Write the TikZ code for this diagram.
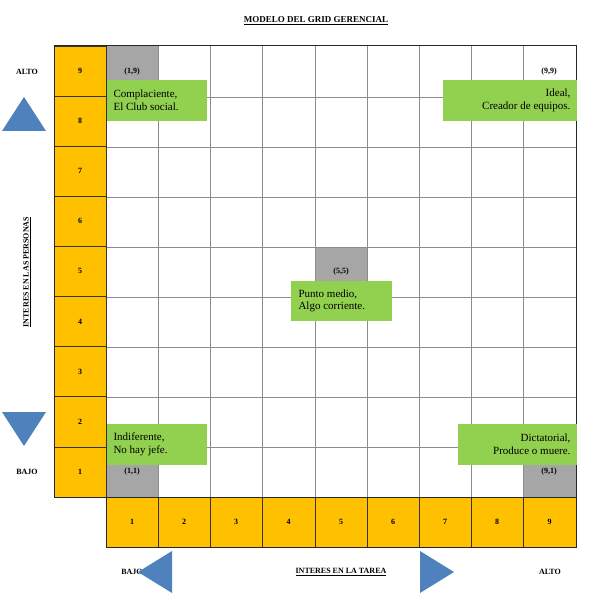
\documentclass[tikz,border=0pt]{standalone}
\usepackage{fontspec}
\setmainfont{Liberation Serif}
\begin{document}
\begin{tikzpicture}[x=1pt,y=-1pt,
 ycell/.style={fill=yellow!70!orange!95!white,draw=black!80,line width=0.6pt},
 gcell/.style={fill=black!35},
 gbox/.style={fill=green!55!black!45!lime!60!white,draw=none,align=left,inner sep=0pt,font=\fontsize{11}{12}\selectfont},
 lbl/.style={font=\bfseries\fontsize{8}{9}\selectfont},
 arr/.style={fill=blue!50!cyan!40!black!70!white}]
\definecolor{myyel}{RGB}{255,192,0}
\definecolor{mygrn}{RGB}{146,208,80}
\definecolor{myblu}{RGB}{79,129,189}
\tikzset{ycell/.style={fill=myyel,draw=black!80,line width=0.6pt},gbox/.append style={fill=mygrn},arr/.style={fill=myblu}}
\useasboundingbox (0,0) rectangle (604,604);
\node[font=\bfseries\fontsize{9}{10}\selectfont] (title) at (316,21) {\underline{MODELO DEL GRID GERENCIAL}};
% gray cells
\fill[gcell] (106,46) rectangle (158,97);
\fill[gcell] (315,247) rectangle (367,297);
\fill[gcell] (106,447) rectangle (158,497);
\fill[gcell] (523,447) rectangle (576,497);
% grid
\foreach \x in {158,210,262,315,367,419,471,523} \draw[black!45,line width=0.6pt] (\x,46) -- (\x,497);
\foreach \y in {97,147,197,247,297,347,397,447} \draw[black!45,line width=0.6pt] (106,\y) -- (576,\y);
% yellow column
\foreach \i [evaluate=\i as \yy using 46+(9-\i)*50.1] in {1,...,9} {
 \draw[ycell] (54,\yy) rectangle (106,\yy+50.1);
 \node[lbl] (r\i) at (80,\yy+25) {\i};}
\foreach \i/\xa/\xb in {1/106/158,2/158/210,3/210/262,4/262/315,5/315/367,6/367/419,7/419/471,8/471/523,9/523/576} {
 \draw[ycell] (\xa,497) rectangle (\xb,547);
 \node[lbl] (c\i) at ({(\xa+\xb)/2},522) {\i};}
\draw[black!85,line width=1pt] (54,46) rectangle (576,497);
\draw[black!85,line width=1pt] (106,497) rectangle (576,547);
% coordinates labels
\node[lbl] (p19) at (132,72) {(1,9)};
\node[lbl] (p99) at (549,72) {(9,9)};
\node[lbl] (p55) at (341,272) {(5,5)};
\node[lbl] (p11) at (132,472) {(1,1)};
\node[lbl] (p91) at (549,472) {(9,1)};
% green boxes
\fill[mygrn] (107,80) rectangle (207,121);
\node[anchor=west,align=left,font=\fontsize{11}{12.5}\selectfont] (g1) at (110,100.5) {Complaciente,\\El Club social.};
\fill[mygrn] (443,80) rectangle (577,121);
\node[anchor=east,align=right,font=\fontsize{11}{12.5}\selectfont] (g2) at (574,100.5) {Ideal,\\Creador de equipos.};
\fill[mygrn] (291,281) rectangle (392,321);
\node[anchor=west,align=left,font=\fontsize{11}{12.5}\selectfont] (g3) at (295,301) {Punto medio,\\Algo corriente.};
\fill[mygrn] (107,424) rectangle (207,465);
\node[anchor=west,align=left,font=\fontsize{11}{12.5}\selectfont] (g4) at (110,444.5) {Indiferente,\\No hay jefe.};
\fill[mygrn] (458,424) rectangle (577,465);
\node[anchor=east,align=right,font=\fontsize{11}{12.5}\selectfont] (g5) at (574,444.5) {Dictatorial,\\Produce o muere.};
% side labels
\node[lbl] (alto1) at (27,72) {ALTO};
\node[lbl] (bajo1) at (27,472) {BAJO};
\node[lbl,rotate=90] (yl) at (27,272) {\underline{INTERES EN LAS PERSONAS}};
\node[lbl] (bajo2) at (132,572) {BAJO};
\node[lbl] (alto2) at (550,572) {ALTO};
\node[lbl] (xl) at (341,572) {\underline{INTERES EN LA TAREA}};
% triangles
\fill[arr] (24,97) -- (46,131) -- (2,131) -- cycle;
\fill[arr] (2,412) -- (46,412) -- (24,446) -- cycle;
\fill[arr] (138,572) -- (172,551) -- (172,593) -- cycle;
\fill[arr] (420,551) -- (454,572) -- (420,593) -- cycle;
\end{tikzpicture}
\end{document}
